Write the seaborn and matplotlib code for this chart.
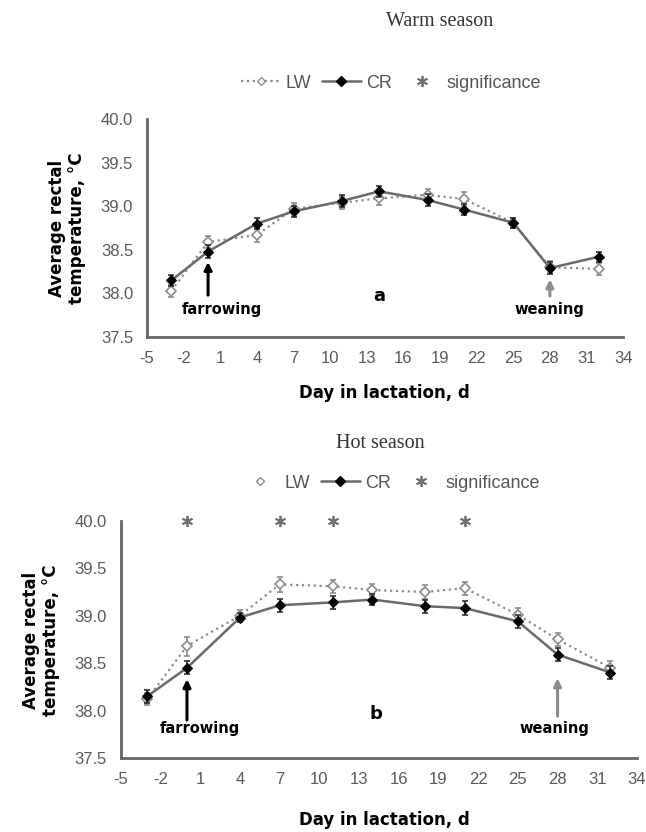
import matplotlib
matplotlib.use("Agg")
import matplotlib.pyplot as plt
import seaborn as sns
from matplotlib.lines import Line2D

# ── DATA ─────────────────────────────────────────────────────────────────────
days = [-3, 0, 4, 7, 11, 14, 18, 21, 25, 28, 32]

warm_lw = [38.03, 38.59, 38.67, 38.97, 39.04, 39.09, 39.13, 39.08, 38.81, 38.30, 38.28]
warm_cr = [38.15, 38.48, 38.80, 38.94, 39.06, 39.17, 39.07, 38.96, 38.81, 38.29, 38.42]
warm_lw_err = [0.07, 0.07, 0.08, 0.07, 0.07, 0.08, 0.07, 0.08, 0.06, 0.07, 0.07]
warm_cr_err = [0.06, 0.07, 0.06, 0.06, 0.07, 0.06, 0.07, 0.06, 0.06, 0.07, 0.06]

hot_lw = [38.12, 38.68, 39.00, 39.33, 39.31, 39.27, 39.25, 39.29, 39.01, 38.75, 38.45]
hot_cr = [38.15, 38.45, 38.98, 39.11, 39.14, 39.17, 39.10, 39.08, 38.94, 38.59, 38.40]
hot_lw_err = [0.06, 0.10, 0.06, 0.08, 0.07, 0.06, 0.07, 0.07, 0.07, 0.07, 0.07]
hot_cr_err = [0.07, 0.07, 0.05, 0.07, 0.07, 0.06, 0.07, 0.07, 0.07, 0.07, 0.07]

hot_sig_days = [0, 7, 11, 21]
hot_sig_y = [40.0, 40.0, 40.0, 40.0]

x_ticks = list(range(-5, 35, 3))
y_ticks = [37.5, 38.0, 38.5, 39.0, 39.5, 40.0]

sns.set_theme(style="white")
plt.rcParams["font.family"] = ["Liberation Sans", "DejaVu Sans"]
plt.rcParams["axes.unicode_minus"] = False

DARK = "#6a6a6a"
LIGHT = "#8c8c8c"
TICK = "#5a5a5a"
SIG = (6, 2, 0)

fig = plt.figure(figsize=(6.46, 8.32), dpi=100)
ax_top = fig.add_axes([0.2276, 0.595, 0.737, 0.262])
ax_bot = fig.add_axes([0.187, 0.089, 0.799, 0.285])


def draw_panel(ax, lw, cr, lw_err, cr_err):
    ax.errorbar(days, lw, yerr=lw_err, fmt="none", ecolor=LIGHT,
                elinewidth=1.2, capsize=2.5, capthick=1.2, zorder=2)
    sns.lineplot(x=days, y=lw, ax=ax, color=LIGHT, lw=1.6, linestyle=":",
                 marker="D", markersize=5, markerfacecolor="white",
                 markeredgecolor=LIGHT, markeredgewidth=1.2, zorder=3)
    ax.errorbar(days, cr, yerr=cr_err, fmt="none", ecolor="#303030",
                elinewidth=1.2, capsize=2.5, capthick=1.2, zorder=4)
    sns.lineplot(x=days, y=cr, ax=ax, color=DARK, lw=1.8,
                 marker="D", markersize=5.5, markerfacecolor="black",
                 markeredgecolor="black", zorder=5)

    ax.set_xlim(-5, 34)
    ax.set_ylim(37.5, 40.0)
    ax.set_xticks(x_ticks)
    ax.set_yticks(y_ticks)
    ax.set_yticklabels([f"{v:.1f}" for v in y_ticks])
    ax.tick_params(axis="both", direction="out", length=4, width=1.4,
                   color="#666666", labelcolor=TICK, labelsize=12, pad=6)
    ax.set_xlabel("")
    ax.set_ylabel("")
    for side in ["top", "right"]:
        ax.spines[side].set_visible(False)
    for side in ["left", "bottom"]:
        ax.spines[side].set_color("#666666")
        ax.spines[side].set_linewidth(2)


def arrow(ax, x, y0, y1, color):
    ax.annotate("", xy=(x, y1), xytext=(x, y0),
                arrowprops=dict(arrowstyle="-|>", color=color, lw=2.2,
                                mutation_scale=11, shrinkA=0, shrinkB=0))


BOLD = dict(family="DejaVu Sans", fontweight="bold", color="black")

# ── Warm season ──────────────────────────────────────────────────────────────
draw_panel(ax_top, warm_lw, warm_cr, warm_lw_err, warm_cr_err)
arrow(ax_top, 0, 37.98, 38.36, "black")
arrow(ax_top, 28, 37.97, 38.16, LIGHT)
ax_top.text(1.1, 37.81, "farrowing", ha="center", va="center", fontsize=10.5, **BOLD)
ax_top.text(28, 37.82, "weaning", ha="center", va="center", fontsize=10.5, **BOLD)
ax_top.text(14, 37.97, "a", ha="center", va="center", fontsize=13, **BOLD)

# ── Hot season ───────────────────────────────────────────────────────────────
draw_panel(ax_bot, hot_lw, hot_cr, hot_lw_err, hot_cr_err)
ax_bot.plot(hot_sig_days, hot_sig_y, ls="none", marker=SIG, markersize=8,
            markeredgewidth=1.3, color="#707070", clip_on=False, zorder=6)
arrow(ax_bot, 0, 37.90, 38.33, "black")
arrow(ax_bot, 28, 37.94, 38.34, LIGHT)
ax_bot.text(1.0, 37.81, "farrowing", ha="center", va="center", fontsize=10.5, **BOLD)
ax_bot.text(27.8, 37.81, "weaning", ha="center", va="center", fontsize=10.5, **BOLD)
ax_bot.text(14.3, 37.96, "b", ha="center", va="center", fontsize=13, **BOLD)

# ── Titles, axis labels, legends ─────────────────────────────────────────────
W, H = 646, 832
fig.text(440 / W, 1 - 22 / H, "Warm season", ha="center", va="center",
         family="Liberation Serif", fontsize=14.5, color="#333333")
fig.text(380 / W, 1 - 443 / H, "Hot season", ha="center", va="center",
         family="Liberation Serif", fontsize=14.5, color="#333333")

ylab = "Average rectal\ntemperature, \u00b0C"
fig.text(67 / W, 1 - 228 / H, ylab, rotation=90, ha="center", va="center",
         fontsize=12, linespacing=1.15, **BOLD)
fig.text(41 / W, 1 - 640 / H, ylab, rotation=90, ha="center", va="center",
         fontsize=12, linespacing=1.15, **BOLD)
fig.text(384 / W, 1 - 393 / H, "Day in lactation, d", ha="center", va="center",
         fontsize=12, **BOLD)
fig.text(384 / W, 1 - 820 / H, "Day in lactation, d", ha="center", va="center",
         fontsize=12, **BOLD)

sig_h = Line2D([], [], ls="none", marker=SIG, markersize=8,
               markeredgewidth=1.3, color="#707070")
cr_h = Line2D([], [], color=DARK, lw=1.8, marker="D", markersize=5,
              markerfacecolor="black", markeredgecolor="black")
lw_top_h = Line2D([], [], color=LIGHT, lw=1.6, ls=":", marker="D", markersize=4.5,
                  markerfacecolor="white", markeredgecolor=LIGHT)
lw_bot_h = Line2D([], [], ls="none", marker="D", markersize=4.5,
                  markerfacecolor="white", markeredgecolor=LIGHT)

leg_kw = dict(loc="center", ncol=3, frameon=False, fontsize=13,
              handlelength=2.2, handletextpad=0.25, columnspacing=0.6,
              labelcolor="#555555")
fig.legend([lw_top_h, cr_h, sig_h], ["LW", "CR", "significance"],
           bbox_to_anchor=(391 / W, 1 - 83 / H), **leg_kw)
fig.legend([lw_bot_h, cr_h, sig_h], ["LW", "CR", "significance"],
           bbox_to_anchor=(390 / W, 1 - 483 / H), **leg_kw)

fig.savefig("out.png", dpi=100)
